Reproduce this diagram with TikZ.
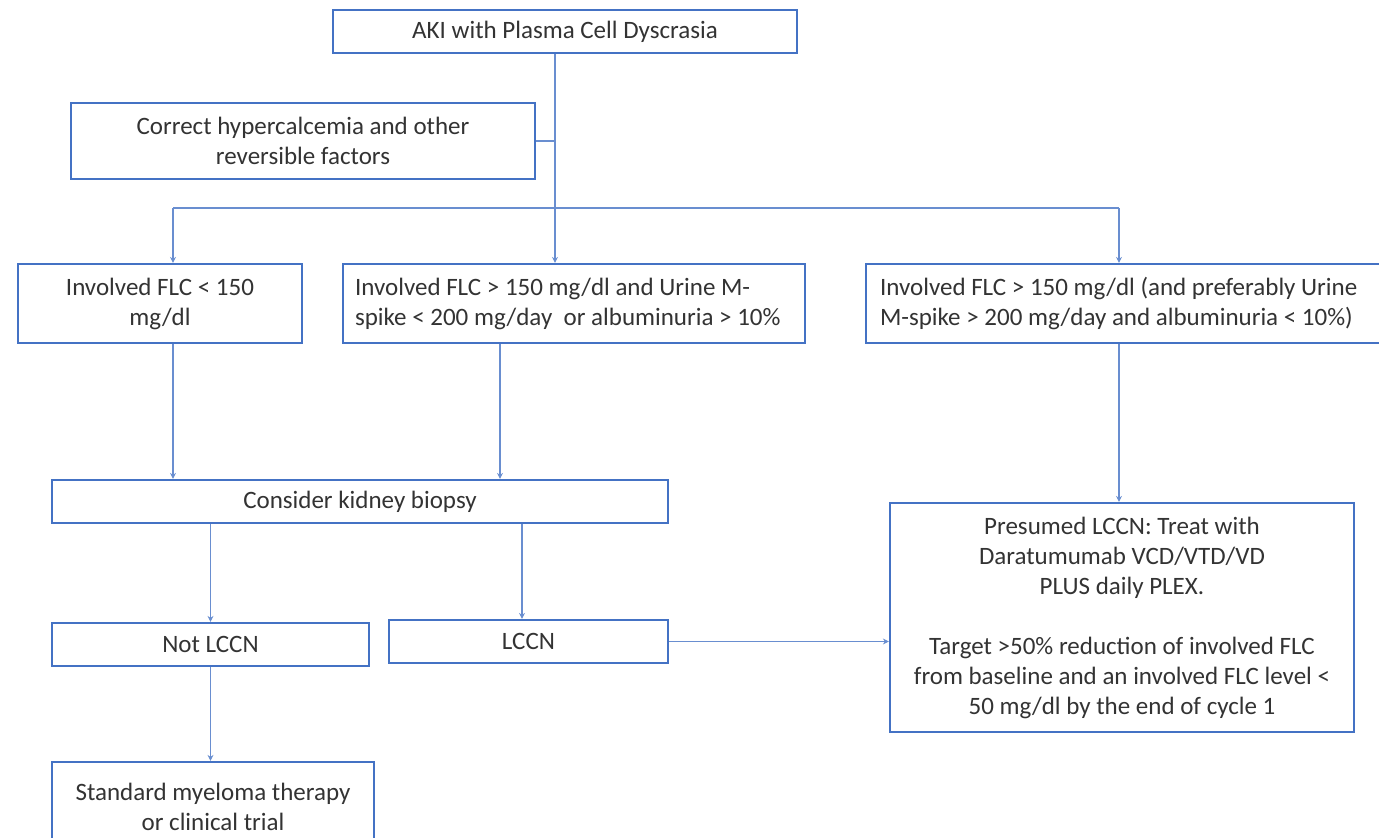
\documentclass[tikz,border=0pt]{standalone}
\usepackage{fontspec}
\setmainfont{Carlito}
\usetikzlibrary{arrows.meta,calc}
\definecolor{obl}{HTML}{4472C4}
\definecolor{txt}{HTML}{333333}
\tikzset{
  box/.style={draw=obl, line width=2.2pt, fill=white, text=txt, font=\fontsize{25pt}{30pt}\selectfont, inner sep=0pt, align=center},
  lbox/.style={box, align=flush left, inner xsep=12pt},
  conn/.style={draw=obl!80, line width=1.8pt},
  arr/.style={conn, -{Stealth[length=6pt,width=6pt]}}
}
\begin{document}
\begin{tikzpicture}[x=1pt,y=-1pt]
\useasboundingbox (0,0) rectangle (1379,838);
\node[box, minimum width=464pt, minimum height=43pt] (aki) at (565,31.5) {AKI with Plasma Cell Dyscrasia};
\node[box, minimum width=464pt, minimum height=76pt] (corr) at (303,141) {Correct hypercalcemia and other\\reversible factors};
\node[box, minimum width=284pt, minimum height=79pt] (low) at (160,303.5) {Involved FLC < 150\\mg/dl};
\node[lbox, text width=438pt, minimum height=79pt] (mid) at (574,303.5) {Involved FLC > 150 mg/dl and Urine M-\\spike < 200 mg/day\ \ or albuminuria > 10\%};
\node[lbox, inner xsep=14pt, text width=496pt, minimum height=79pt] (high) at (1128,303.5) {Involved FLC > 150 mg/dl (and preferably Urine\\M-spike > 200 mg/day and albuminuria < 10\%)};
\node[box, minimum width=616pt, minimum height=43pt] (bio) at (360,501.5) {Consider kidney biopsy};
\node[box, minimum width=317pt, minimum height=43pt] (not) at (210.5,644.5) {Not LCCN};
\node[box, minimum width=279pt, minimum height=43pt] (lccn) at (528.5,641.5) {LCCN};
\node[box, minimum width=464pt, minimum height=229pt] (pres) at (1122,617.5) {Presumed LCCN: Treat with\\Daratumumab VCD/VTD/VD\\PLUS daily PLEX.\\[30pt]Target >50\% reduction of involved FLC\\from baseline and an involved FLC level <\\50 mg/dl by the end of cycle 1};
\node[box, minimum width=322pt, minimum height=90pt] (std) at (213,807) {Standard myeloma therapy\\or clinical trial};
\coordinate (j1) at (555,208);
\coordinate (jl) at (173,208);
\coordinate (jr) at (1119,208);
\draw[conn] (aki.south -| j1) -- (j1);
\draw[conn] (corr.east) -- (corr.east -| j1);
\draw[arr] (j1) -- (j1 |- mid.north);
\draw[conn] (jl) -- (jr);
\draw[arr] (jl) -- (jl |- low.north);
\draw[arr] (jr) -- (jr |- high.north);
\draw[arr] (low.south -| jl) -- (bio.north -| jl);
\draw[arr] ($(mid.south)+(-74,0)$) coordinate (m1) -- (bio.north -| m1);
\draw[arr] (high.south -| jr) -- (pres.north -| jr);
\draw[arr] (bio.south -| not.north) -- (not.north);
\draw[arr] (bio.south -| 522,0) coordinate (b2) -- (lccn.north -| b2);
\draw[arr] (lccn.east) -- (lccn.east -| pres.west);
\draw[arr] (not.south) -- (not.south |- std.north);
\end{tikzpicture}
\end{document}
